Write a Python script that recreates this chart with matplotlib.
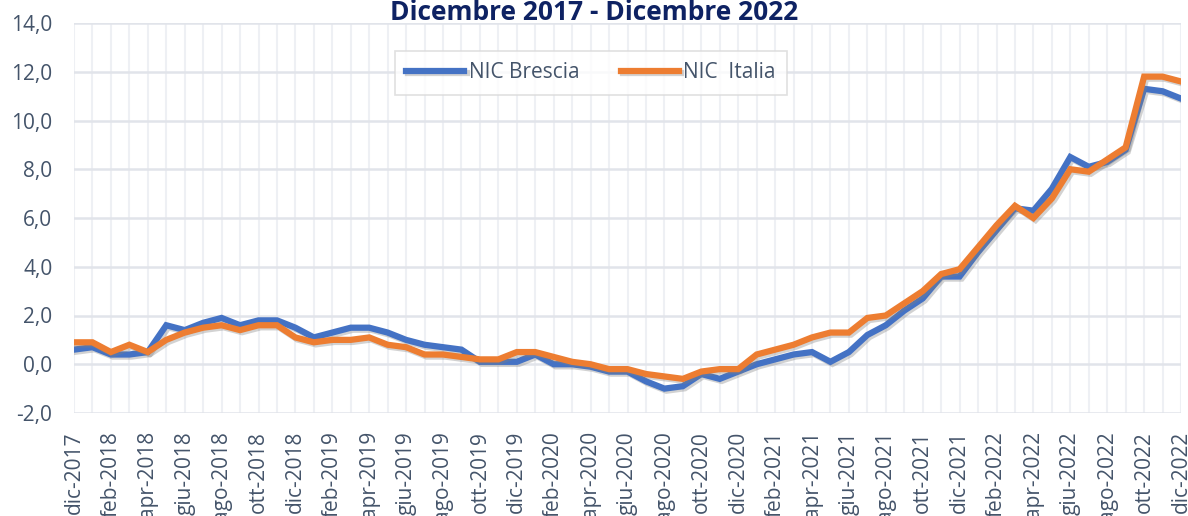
import matplotlib.pyplot as plt
import matplotlib.patheffects as pe
from matplotlib.ticker import FuncFormatter

mesi = ['gen', 'feb', 'mar', 'apr', 'mag', 'giu', 'lug', 'ago', 'set', 'ott', 'nov', 'dic']
labels = ['dic-2017'] + [m + '-' + str(y) for y in range(2018, 2023) for m in mesi]

brescia = [0.6, 0.7, 0.4, 0.4, 0.5, 1.6, 1.4, 1.7, 1.9, 1.6, 1.8, 1.8,
           1.5, 1.1, 1.3, 1.5, 1.5, 1.3, 1.0, 0.8, 0.7, 0.6, 0.1, 0.1,
           0.1, 0.4, 0.0, 0.0, -0.1, -0.3, -0.3, -0.7, -1.0, -0.9, -0.4, -0.6,
           -0.3, 0.0, 0.2, 0.4, 0.5, 0.1, 0.5, 1.2, 1.6, 2.2, 2.7, 3.6,
           3.6, 4.6, 5.5, 6.4, 6.3, 7.2, 8.5, 8.1, 8.3, 8.8, 11.3, 11.2, 10.9]

italia = [0.9, 0.9, 0.5, 0.8, 0.5, 1.0, 1.3, 1.5, 1.6, 1.4, 1.6, 1.6,
          1.1, 0.9, 1.0, 1.0, 1.1, 0.8, 0.7, 0.4, 0.4, 0.3, 0.2, 0.2,
          0.5, 0.5, 0.3, 0.1, 0.0, -0.2, -0.2, -0.4, -0.5, -0.6, -0.3, -0.2,
          -0.2, 0.4, 0.6, 0.8, 1.1, 1.3, 1.3, 1.9, 2.0, 2.5, 3.0, 3.7,
          3.9, 4.8, 5.7, 6.5, 6.0, 6.8, 8.0, 7.9, 8.4, 8.9, 11.8, 11.8, 11.6]

plt.rcParams['font.family'] = ['Open Sans', 'DejaVu Sans']
txt = '#44546A'

fig = plt.figure(figsize=(11.88, 5.16), dpi=100)
ax = fig.add_axes([74/1188, 1 - 413/516, (1181 - 74)/1188, (413 - 23)/516])

x = range(len(labels))
shadow = [pe.SimpleLineShadow(offset=(1.5, -1.5), shadow_color='gray', alpha=0.35), pe.Normal()]
ax.plot(x, brescia, color='#4472C4', lw=4.5, label='NIC Brescia', solid_joinstyle='miter', path_effects=shadow, zorder=3)
ax.plot(x, italia, color='#ED7D31', lw=4.5, label='NIC  Italia', solid_joinstyle='miter', path_effects=shadow, zorder=4)

ax.set_xlim(0, len(labels) - 1)
ax.set_ylim(-2, 14)
ax.set_yticks(range(-2, 15, 2))
ax.yaxis.set_major_formatter(FuncFormatter(lambda v, p: f'{v:.1f}'.replace('.', ',')))
ax.set_xticks(x)
ax.set_xticklabels([l if i % 2 == 0 else '' for i, l in enumerate(labels)], rotation=90)
ax.tick_params(length=0, labelcolor=txt, labelsize=15)
ax.tick_params(axis='y', pad=15.5)
ax.tick_params(axis='x', pad=13)

ax.grid(axis='y', color='#E1E4EA', lw=1.8)
ax.grid(axis='x', color='#EEF0F4', lw=1.5)
ax.set_axisbelow(True)
for s in ax.spines.values():
    s.set_visible(False)

fig.text(594/1188, 1 - 13/516, 'Dicembre 2017 - Dicembre 2022', ha='center', va='center',
         fontsize=19, fontweight='bold', color='#0E2263')

leg = ax.legend(loc='center', bbox_to_anchor=(591/1188, 1 - 73/516), bbox_transform=fig.transFigure,
                ncol=2, fontsize=15, frameon=True, fancybox=False, handlelength=2.8,
                columnspacing=2.0, handletextpad=0.2, borderpad=0.55)
leg.get_frame().set_edgecolor('#D9D9D9')
leg.get_frame().set_linewidth(1.2)
for t in leg.get_texts():
    t.set_color(txt)

fig.savefig('out.png', dpi=100)
